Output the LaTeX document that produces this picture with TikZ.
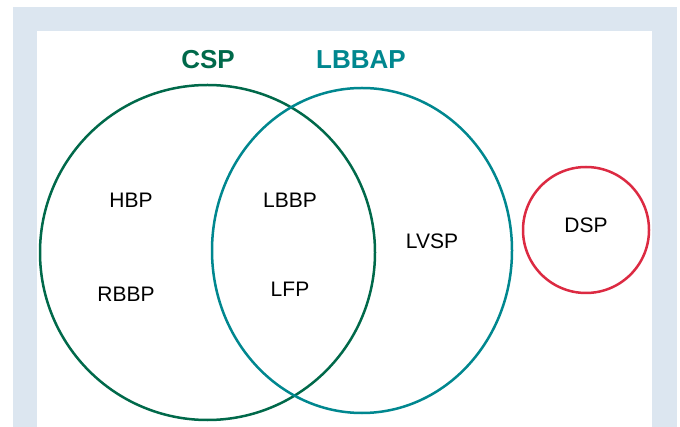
\documentclass[tikz,border=0pt]{standalone}
\usepackage{fontspec}
\setmainfont{Liberation Sans}
\usetikzlibrary{shapes.geometric}
\definecolor{cspgreen}{HTML}{00694A}
\definecolor{lbbapteal}{HTML}{00878F}
\definecolor{dspred}{HTML}{DC2A42}
\definecolor{framegray}{HTML}{DCE6F0}
\tikzstyle{setcircle}=[circle,draw,line width=2.5pt,inner sep=0pt]
\tikzstyle{setellipse}=[ellipse,draw,line width=2.5pt,inner sep=0pt]
\tikzstyle{setname}=[font=\fontsize{26}{30}\selectfont\bfseries]
\tikzstyle{member}=[font=\fontsize{21}{25}\selectfont]

\begin{document}
\begin{tikzpicture}[x=1pt,y=-1pt]
    \useasboundingbox (0,0) rectangle (680,427);
    \fill[framegray] (13,7) rectangle (677,427);
    \fill[white] (37,31) rectangle (652,427);

    % the three sets
    \node[setcircle,draw=cspgreen,minimum size=335pt] (CSP) at (207.5,252.5) {};
    \node[setellipse,draw=lbbapteal,minimum width=300pt,minimum height=325pt] (LBBAP) at (362,250.5) {};
    \node[setcircle,draw=dspred,minimum size=126pt] (DSP) at (586,230) {};

    \node[setname,text=cspgreen] (CSPname) at (208,60) {CSP};
    \node[setname,text=lbbapteal] (LBBAPname) at (361,60) {LBBAP};

    \foreach \pos/\name/\label in {{(131,200)/HBP/HBP}, {(126,294)/RBBP/RBBP}, {(290,200)/LBBP/LBBP}, {(290,289)/LFP/LFP}, {(432,241)/LVSP/LVSP}, {(586,225)/DSPtext/DSP}}
        \node[member] (\name) at \pos {\label};
\end{tikzpicture}
\end{document}
